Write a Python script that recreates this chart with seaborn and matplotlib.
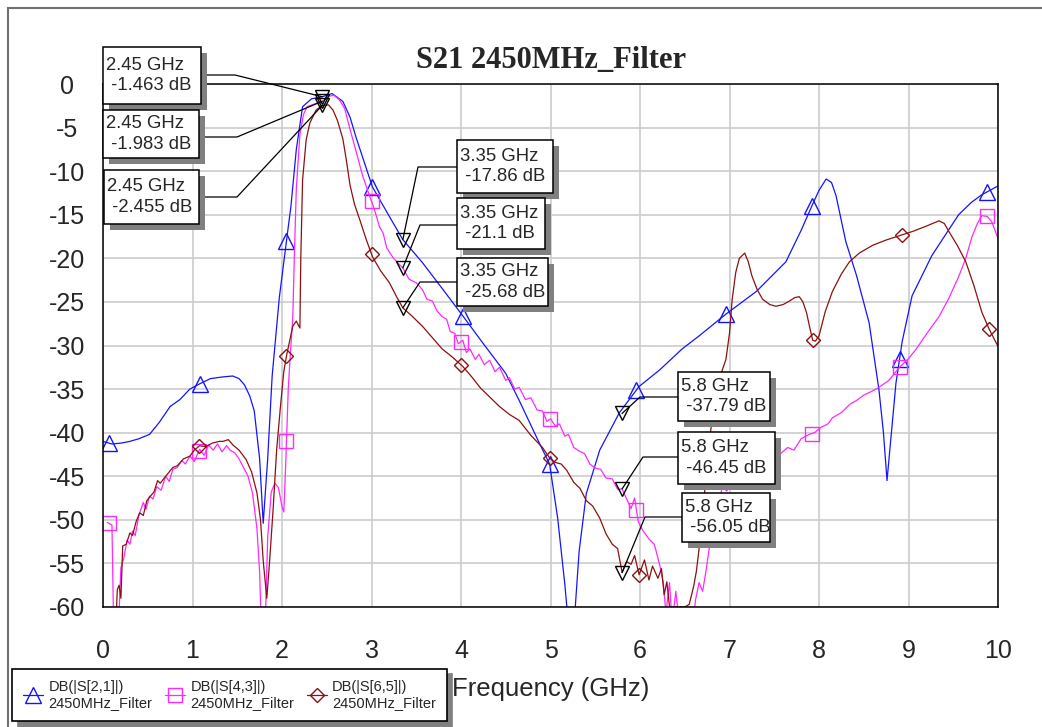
import numpy as np
import pandas as pd
import matplotlib
matplotlib.use("Agg")
import matplotlib.pyplot as plt
import seaborn as sns
from matplotlib.patches import Rectangle
from matplotlib.lines import Line2D
from matplotlib.transforms import IdentityTransform

# ---------------- data ----------------
freq_s21 = [0.0, 0.1, 0.2, 0.3, 0.4, 0.52, 0.63, 0.75, 0.86, 0.97, 1.08, 1.2, 1.34, 1.45, 1.52, 1.58,
            1.64, 1.69, 1.75, 1.79, 1.84, 1.89, 1.97, 2.05, 2.1, 2.16, 2.23, 2.33, 2.45, 2.56, 2.68,
            2.76, 2.83, 2.92, 3.01, 3.2, 3.35, 3.57, 3.8, 4.02, 4.25, 4.5, 4.65, 4.88, 4.99, 5.08,
            5.16, 5.2, 5.24, 5.27, 5.32, 5.4, 5.55, 5.77, 5.99, 6.22, 6.47, 6.66, 6.96, 7.3, 7.63,
            7.8, 7.92, 8.0, 8.08, 8.14, 8.19, 8.3, 8.42, 8.56, 8.67, 8.72, 8.76, 8.8, 8.86, 8.93,
            9.04, 9.15, 9.26, 9.4, 9.56, 9.7, 9.82, 10.0]
db_s21 = [-41.0, -41.3, -41.2, -41.0, -40.7, -40.2, -38.8, -37.0, -36.2, -35.0, -34.4, -33.8, -33.6,
          -33.5, -33.8, -34.5, -35.8, -37.5, -43.0, -50.4, -43.0, -33.5, -24.5, -18.0, -14.0, -7.5,
          -2.6, -1.7, -1.463, -1.1, -2.0, -3.8, -6.2, -9.0, -11.8, -15.2, -17.86, -20.5, -23.6,
          -26.6, -29.8, -33.2, -36.3, -41.3, -43.6, -49.8, -57.4, -62.0, -63.0, -61.0, -53.6, -47.0,
          -42.0, -37.7, -34.7, -32.8, -30.4, -28.9, -26.4, -23.8, -20.4, -16.8, -14.0, -12.2, -10.9,
          -11.3, -12.8, -18.1, -22.0, -27.4, -35.1, -40.0, -45.5, -41.0, -34.3, -29.5, -24.3, -22.0,
          -19.7, -17.5, -15.0, -13.6, -12.7, -11.7]

freq_s43 = [0.05, 0.1, 0.12, 0.17, 0.2, 0.23, 0.27, 0.3, 0.33, 0.36, 0.4, 0.45, 0.48, 0.52, 0.56, 0.6,
            0.65, 0.7, 0.74, 0.78, 0.83, 0.88, 0.92, 0.97, 1.02, 1.08, 1.13, 1.18, 1.23, 1.28, 1.33,
            1.38, 1.42, 1.47, 1.52, 1.56, 1.62, 1.67, 1.72, 1.75, 1.77, 1.81, 1.84, 1.88, 1.92, 1.96,
            2.0, 2.02, 2.04, 2.07, 2.09, 2.12, 2.14, 2.16, 2.2, 2.24, 2.28, 2.36, 2.45, 2.52, 2.58,
            2.64, 2.7, 2.76, 2.83, 2.9, 2.98, 3.03, 3.09, 3.13, 3.17, 3.24, 3.3, 3.35, 3.42, 3.5,
            3.57, 3.62, 3.68, 3.73, 3.79, 3.84, 3.88, 3.93, 3.97, 4.02, 4.06, 4.1, 4.16, 4.2, 4.26,
            4.32, 4.38, 4.43, 4.5, 4.54, 4.6, 4.65, 4.72, 4.78, 4.85, 4.91, 4.96, 5.0, 5.05, 5.1,
            5.16, 5.2, 5.26, 5.32, 5.38, 5.44, 5.51, 5.56, 5.62, 5.69, 5.75, 5.8, 5.85, 5.9, 5.94,
            5.98, 6.03, 6.1, 6.16, 6.22, 6.26, 6.29, 6.33, 6.36, 6.4, 6.44, 6.5, 6.58, 6.62, 6.66,
            6.7, 6.74, 6.78, 6.81, 6.86, 6.92, 6.97, 7.03, 7.1, 7.2, 7.3, 7.4, 7.5, 7.56, 7.65, 7.72,
            7.8, 7.89, 7.95, 8.02, 8.1, 8.15, 8.25, 8.35, 8.42, 8.5, 8.6, 8.67, 8.78, 8.9, 9.0, 9.08,
            9.2, 9.34, 9.45, 9.56, 9.64, 9.71, 9.77, 9.82, 9.88, 9.93, 10.0]
db_s43 = [-50.3, -50.6, -63.0, -63.0, -55.5, -54.5, -52.3, -52.8, -51.3, -51.8, -49.5, -48.0, -48.8,
          -47.3, -47.6, -46.2, -46.6, -45.0, -45.6, -44.2, -44.0, -43.2, -43.6, -42.7, -43.3, -41.9,
          -42.6, -41.4, -42.0, -41.3, -42.2, -41.5, -42.0, -42.3, -43.0, -43.8, -45.0, -46.9, -51.0,
          -56.0, -63.0, -63.0, -52.0, -46.8, -45.8, -46.3, -48.5, -49.1, -44.0, -35.0, -31.5, -26.9,
          -19.0, -12.0, -5.8, -3.5, -2.6, -2.3, -1.983, -1.4, -1.3, -1.8, -2.8, -5.2, -7.8, -10.5,
          -12.9, -14.3, -16.4, -17.1, -18.8, -19.9, -20.6, -21.1, -22.4, -22.8, -23.6, -24.7, -24.9,
          -26.0, -26.7, -27.0, -28.4, -28.6, -29.8, -29.4, -30.8, -30.4, -31.6, -31.0, -32.2, -31.7,
          -33.0, -32.5, -34.0, -33.7, -35.0, -34.8, -36.2, -36.0, -37.4, -37.5, -38.7, -38.4, -39.2,
          -39.0, -40.4, -40.2, -41.7, -42.1, -42.4, -43.6, -44.1, -44.2, -45.2, -45.3, -46.5, -46.45,
          -47.6, -48.7, -47.5, -50.2, -51.2, -52.2, -52.8, -55.2, -57.2, -60.7, -57.2, -62.0, -58.2,
          -62.0, -63.0, -63.0, -59.2, -57.2, -58.2, -55.7, -52.8, -48.2, -49.2, -46.2, -46.7,
          -45.2, -45.7, -44.5, -43.7, -44.0, -42.7, -42.5, -41.7, -42.0, -40.7, -40.2, -40.0, -39.4,
          -39.0, -38.3, -37.7, -36.7, -36.3, -35.7, -35.2, -34.8, -34.0, -32.5, -31.5, -30.5, -28.7,
          -26.7, -24.6, -22.1, -20.0, -17.5, -16.0, -15.1, -15.2, -15.8, -17.7]

freq_s65 = [0.1, 0.14, 0.16, 0.18, 0.2, 0.22, 0.26, 0.3, 0.33, 0.37, 0.41, 0.45, 0.49, 0.52, 0.57, 0.61,
            0.64, 0.7, 0.78, 0.83, 0.9, 0.97, 1.02, 1.08, 1.15, 1.22, 1.3, 1.34, 1.4, 1.45, 1.52, 1.6,
            1.66, 1.72, 1.76, 1.79, 1.83, 1.86, 1.9, 1.94, 1.98, 2.02, 2.05, 2.12, 2.16, 2.2, 2.21,
            2.23, 2.27, 2.31, 2.38, 2.45, 2.52, 2.57, 2.62, 2.68, 2.72, 2.76, 2.81, 2.87, 2.94, 3.01,
            3.1, 3.2, 3.28, 3.35, 3.45, 3.57, 3.68, 3.79, 3.9, 4.02, 4.12, 4.22, 4.32, 4.43, 4.54,
            4.65, 4.78, 4.91, 4.99, 5.05, 5.12, 5.18, 5.26, 5.33, 5.4, 5.47, 5.55, 5.62, 5.69, 5.75,
            5.8, 5.85, 5.9, 5.94, 5.99, 6.05, 6.1, 6.14, 6.2, 6.24, 6.27, 6.3, 6.33, 6.36, 6.5, 6.55,
            6.6, 6.63, 6.66, 6.72, 6.76, 6.81, 6.86, 6.92, 6.96, 7.0, 7.03, 7.07, 7.11, 7.17, 7.21,
            7.25, 7.31, 7.37, 7.45, 7.52, 7.6, 7.67, 7.73, 7.78, 7.82, 7.86, 7.9, 7.93, 7.96, 8.0,
            8.07, 8.15, 8.25, 8.34, 8.45, 8.6, 8.75, 8.9, 9.05, 9.2, 9.34, 9.4, 9.45, 9.55, 9.64,
            9.73, 9.82, 9.9, 10.0]
db_s65 = [-63.0, -63.0, -58.0, -57.5, -59.0, -53.0, -52.8, -51.5, -51.8, -50.2, -49.2, -49.5, -47.8,
          -47.4, -46.8, -45.5, -45.8, -45.0, -44.0, -43.8, -43.0, -42.7, -42.0, -41.5, -41.6, -41.2,
          -41.0, -41.0, -40.8, -41.4, -42.0, -43.1, -44.5, -46.9, -50.0, -54.7, -59.0, -55.0, -48.9,
          -42.0, -37.3, -33.0, -31.2, -27.8, -27.2, -28.0, -20.0, -11.0, -6.4, -4.5, -3.0, -2.455,
          -2.4, -3.0, -4.2, -6.3, -8.8, -11.6, -13.8, -15.6, -17.8, -19.8, -21.4, -22.8, -24.4,
          -25.68, -26.6, -27.8, -29.1, -30.4, -31.3, -32.4, -33.6, -34.9, -35.9, -37.0, -37.9, -38.6,
          -40.3, -41.7, -42.9, -43.4, -43.6, -44.3, -45.7, -46.4, -47.8, -48.4, -49.8, -51.6, -52.8,
          -53.3, -56.05, -54.8, -55.1, -54.1, -56.3, -54.6, -56.9, -55.3, -56.7, -55.6, -58.6, -57.1,
          -60.0, -60.0, -60.0, -59.7, -57.6, -55.9, -53.3, -47.1, -42.1, -38.2, -35.1, -32.8, -31.6,
          -28.6, -24.7, -21.6, -20.0, -19.4, -20.4, -22.0, -23.6, -24.7, -25.3, -25.5, -25.3, -24.9,
          -24.5, -24.4, -25.0, -26.2, -28.1, -29.4, -29.5, -28.9, -26.1, -23.8, -21.8, -20.4, -19.4,
          -18.5, -17.9, -17.4, -16.9, -16.3, -15.7, -16.0, -16.9, -18.6, -20.4, -23.1, -26.2, -28.1,
          -30.1]

marker_freq_s21 = [0.07, 1.08, 2.05, 3.01, 4.02, 4.99, 5.96, 6.96, 7.92, 8.9, 9.88]
marker_freq_s43 = [0.07, 1.07, 2.05, 3.0, 4.0, 4.99, 5.96, 7.92, 8.9, 9.88]
marker_freq_s65 = [1.07, 2.05, 3.0, 4.0, 4.99, 5.99, 7.93, 8.93, 9.9]

series_labels = ["DB(|S[2,1]|)", "DB(|S[4,3]|)", "DB(|S[6,5]|)"]
design_name = "2450MHz_Filter"

readout_freqs = [2.45, 3.35, 5.8]
readout_s21 = [-1.463, -17.86, -37.79]
readout_s43 = [-1.983, -21.1, -46.45]
readout_s65 = [-2.455, -25.68, -56.05]

x_ticks = list(range(0, 11))
y_ticks = list(range(0, -61, -5))

title_text = "S21 2450MHz_Filter"
x_label = "Frequency (GHz)"

# ---------------- style ----------------
sns.set_style("white")
plt.rcParams["font.family"] = ["Liberation Sans", "DejaVu Sans"]
plt.rcParams["axes.unicode_minus"] = False

W, H = 1042, 727
fig = plt.figure(figsize=(W / 100, H / 100), dpi=100)
fig.patch.set_facecolor("white")
ax = fig.add_axes([103 / W, (H - 607) / H, (998 - 103) / W, (607 - 84) / H])

colors = ["#1414ff", "#ff28ff", "#8c1010"]
markers = ["^", "s", "D"]
msizes = [11, 10.5, 7.5]
series = [(freq_s21, db_s21, marker_freq_s21),
          (freq_s43, db_s43, marker_freq_s43),
          (freq_s65, db_s65, marker_freq_s65)]

handles = []
for (f, d, mf), c, m, ms, lab in zip(series, colors, markers, msizes, series_labels):
    df = pd.DataFrame({"Frequency": f, "dB": d})
    sns.lineplot(data=df, x="Frequency", y="dB", ax=ax, color=c, lw=0.9,
                 sort=False, estimator=None, legend=False)
    mf = np.asarray(mf)
    ax.plot(mf, np.interp(mf, f, d), ls="none", marker=m, mfc="none", mec=c,
            ms=ms, mew=1.0)
    handles.append(Line2D([], [], color=c, lw=0.9, marker=m, mfc="none", mec=c,
                          ms=ms, mew=1.0))

# readout markers (black down triangles)
for fr, vals in zip(readout_freqs, zip(readout_s21, readout_s43, readout_s65)):
    ax.plot([fr] * 3, list(vals), ls="none", marker="v", mfc="none", mec="black",
            ms=10, mew=1.0, zorder=5)

ax.set_xlim(0, 10)
ax.set_ylim(-60, 0)
ax.set_xticks(x_ticks, labels=[str(t) for t in x_ticks])
ax.set_yticks(y_ticks, labels=[str(t) for t in y_ticks])
ax.grid(True, color="#cccccc", lw=1.2)
ax.set_axisbelow(True)
for sp in ax.spines.values():
    sp.set_color("black")
    sp.set_linewidth(1.1)
ax.tick_params(axis="both", length=0, labelsize=18)
ax.tick_params(axis="y", pad=26)
ax.tick_params(axis="x", pad=23)
for lab in ax.get_yticklabels():
    lab.set_horizontalalignment("center")
ax.set_ylabel("")
ax.set_xlabel(x_label, fontsize=18.5)
ax.xaxis.set_label_coords(0.5, -0.133)

fig.text(551 / W, 1 - 60 / H, title_text, ha="center", va="center",
         fontfamily="Liberation Serif", fontweight="bold", fontsize=22)

# ---------------- readout boxes ----------------
ident = IdentityTransform()
# (left, top, right, bottom) in image pixels, leader start (x, y), elbow x
box_layout = {
    (2.45, 0): ((103, 47, 201, 104), (201, 75), 235),
    (2.45, 1): ((103, 110, 199, 158), (199, 137), 237),
    (2.45, 2): ((104, 170, 199, 224), (199, 197), 237),
    (3.35, 0): ((457, 140, 553, 193), (457, 167), 418),
    (3.35, 1): ((457, 198, 545, 249), (457, 225), 420),
    (3.35, 2): ((457, 258, 548, 306), (457, 282), 420),
    (5.8, 0): ((678, 372, 770, 421), (678, 397), 640),
    (5.8, 1): ((678, 432, 775, 484), (678, 457), 643),
    (5.8, 2): ((682, 493, 770, 542), (682, 517), 645),
}
fig.canvas.draw()
for fr, vals in zip(readout_freqs, zip(readout_s21, readout_s43, readout_s65)):
    for k, v in enumerate(vals):
        (l, t, r, b), (sx, sy), ex = box_layout[(fr, k)]
        mx, my = ax.transData.transform((fr, v))
        fig.add_artist(Line2D([sx, ex, mx], [H - sy, H - sy, my], transform=ident,
                              color="black", lw=0.9, zorder=6))
        fig.add_artist(Rectangle((l + 6, H - b - 6), r - l, b - t, transform=ident,
                                 fc="#808080", ec="none", zorder=7))
        fig.add_artist(Rectangle((l, H - b), r - l, b - t, transform=ident,
                                 fc="white", ec="black", lw=1.1, zorder=8))
        ghz = f"{fr:g} GHz"
        fig.text(l + 3, (H - t + H - b) / 2, f"{ghz}\n {v:g} dB", transform=ident,
                 ha="left", va="center", fontsize=13.3, linespacing=1.3, zorder=9)

# ---------------- legend ----------------
leg_labels = [f"{s}\n{design_name}" for s in series_labels]
leg = fig.legend(handles, leg_labels, loc="lower left",
                 bbox_to_anchor=(12 / W, (H - 721) / H), ncol=3, frameon=True,
                 fancybox=False, edgecolor="black", framealpha=1, fontsize=10.5,
                 borderpad=0.75, handlelength=1.4, handletextpad=0.35,
                 columnspacing=0.85, borderaxespad=0,
                 shadow={"ox": 4, "oy": -4, "color": "0.5", "alpha": 1})
leg.get_frame().set_linewidth(1.2)

# outer window frame
fig.add_artist(Rectangle((8, -20), 1100, H - 8 + 20, transform=ident, fc="none",
                         ec="#707070", lw=1.5, zorder=0))

fig.savefig("out.png", dpi=100)
